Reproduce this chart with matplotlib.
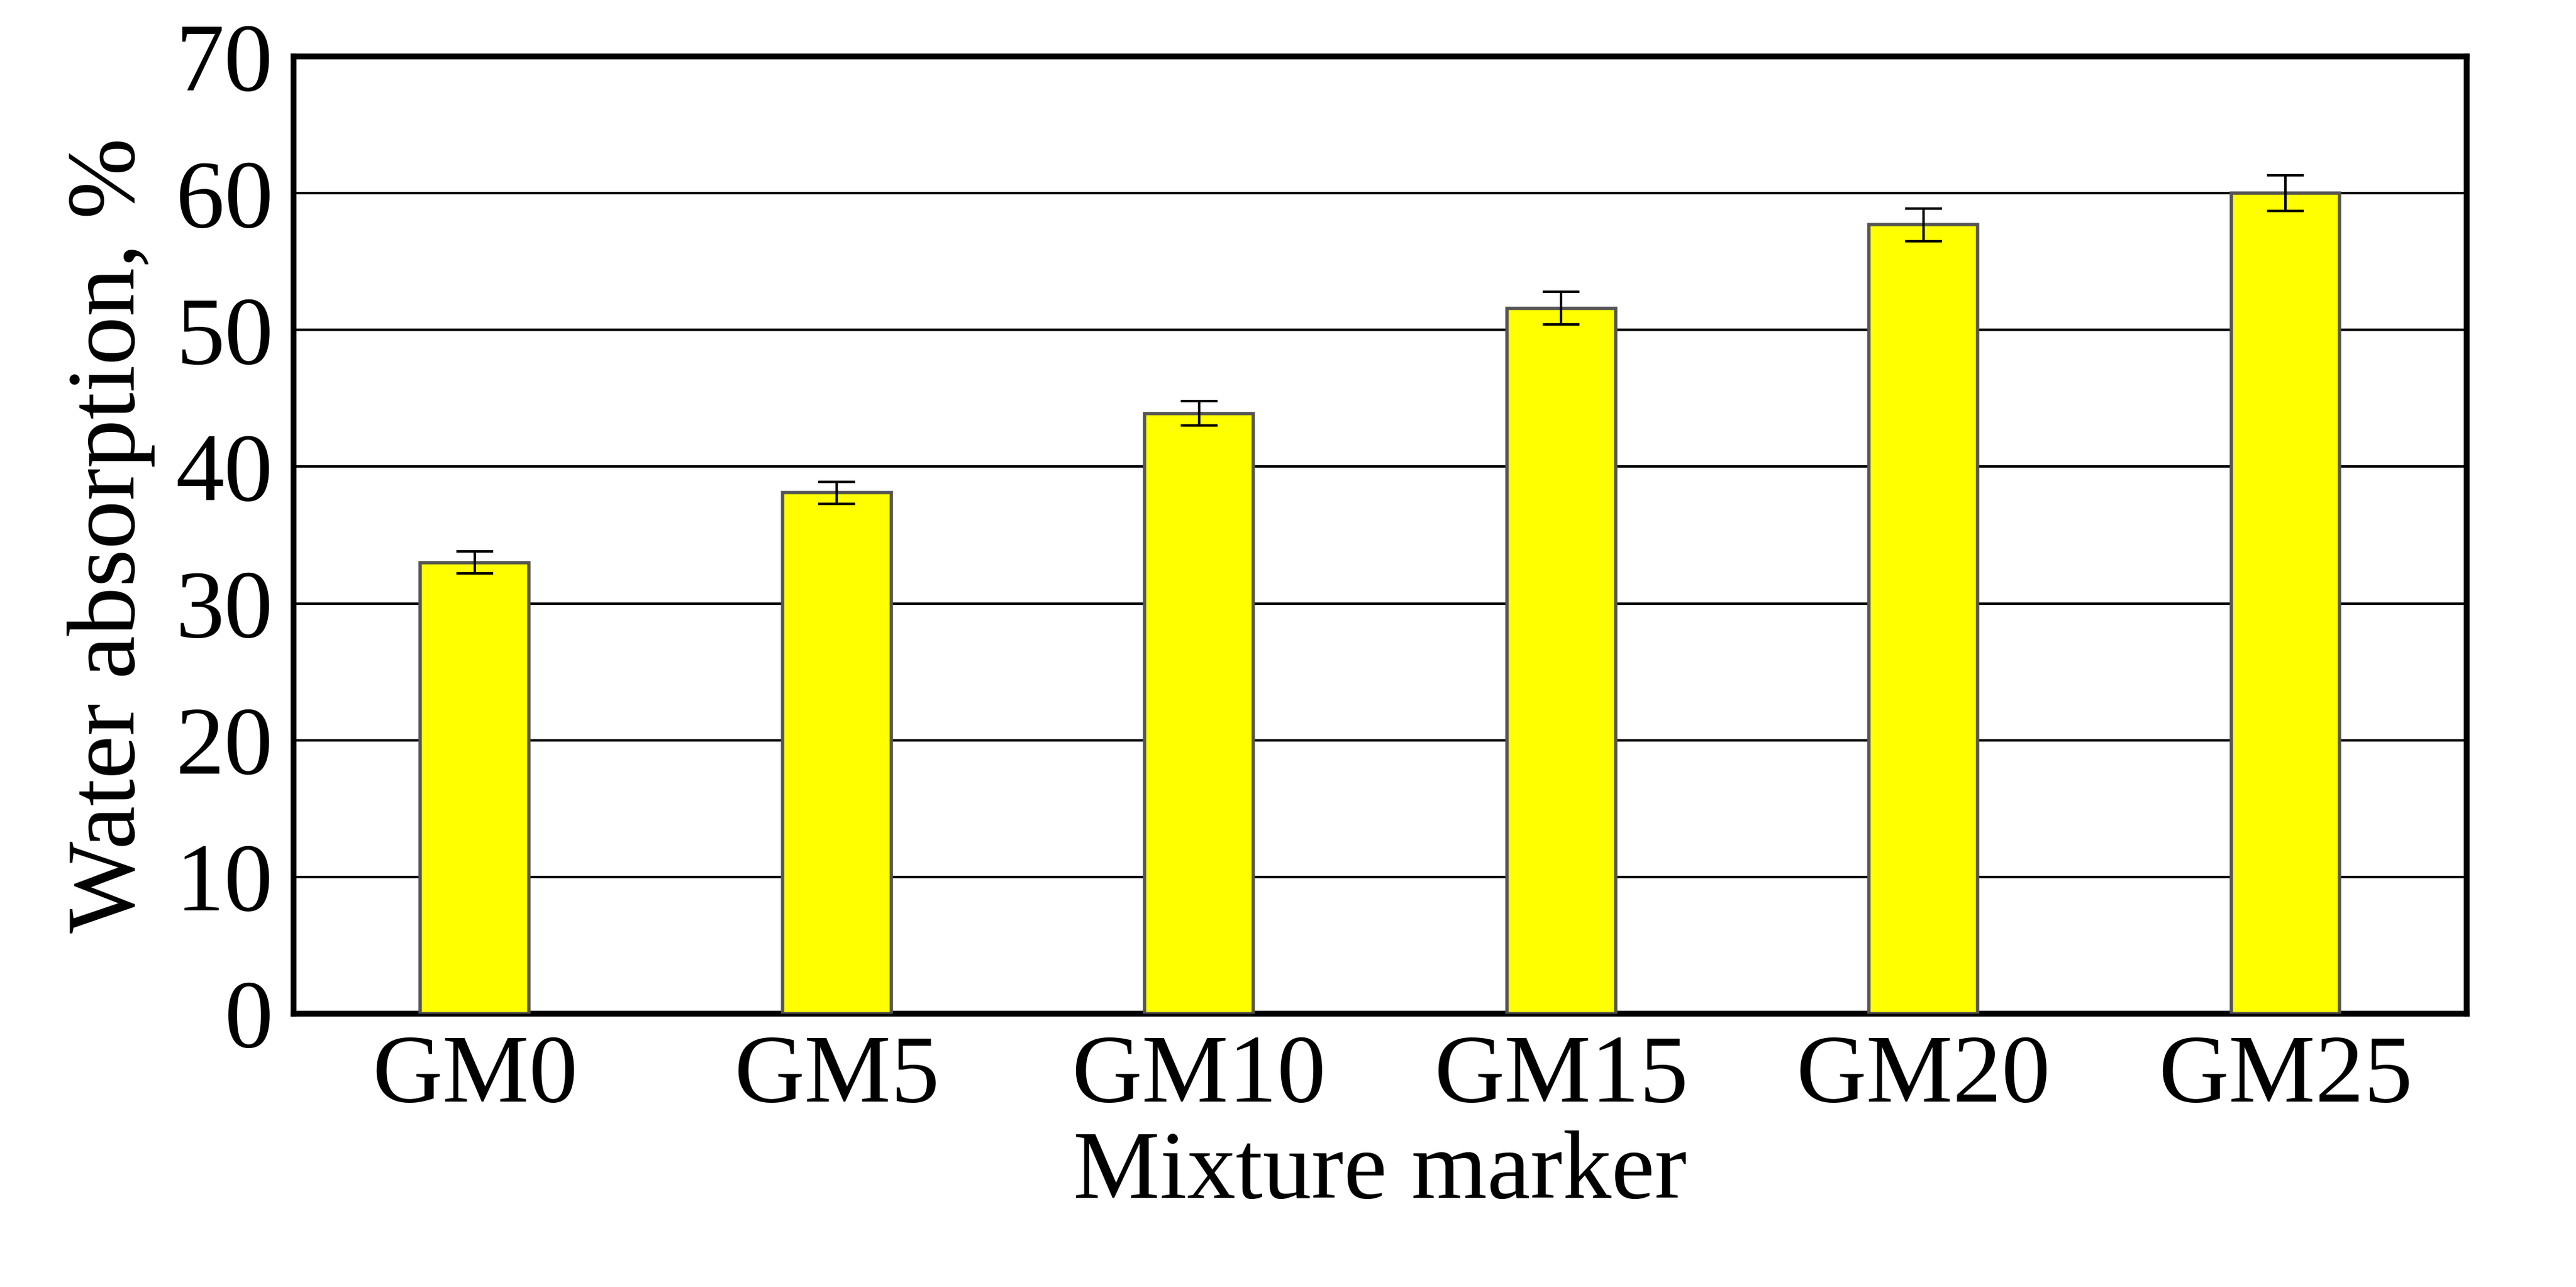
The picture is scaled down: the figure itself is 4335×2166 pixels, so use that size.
import matplotlib
matplotlib.use("Agg")
import matplotlib.pyplot as plt
import numpy as np

categories = ["GM0", "GM5", "GM10", "GM15", "GM20", "GM25"]
values = [33.0, 38.1, 43.9, 51.6, 57.7, 60.0]
errors = [0.8, 0.8, 0.9, 1.2, 1.2, 1.3]

plt.rcParams['font.family'] = ['Liberation Serif', 'DejaVu Serif']
fig = plt.figure(figsize=(43.35, 21.66), dpi=100)
ax = fig.add_axes([0.114, 0.2125, 0.8435, 0.7435])
x = np.arange(len(categories))
ax.bar(x, values, width=0.3, color='#FFFF00', edgecolor='#555555', linewidth=4, zorder=3)
ax.errorbar(x, values, yerr=errors, fmt='none', ecolor='black', elinewidth=3,
            capsize=22, capthick=3, zorder=4)
ax.set_ylim(0, 70)
ax.set_xlim(-0.5, 5.5)
ax.set_yticks(range(0, 71, 10))
ax.yaxis.grid(True, color='black', linewidth=3, zorder=0)
ax.set_axisbelow(True)
ax.set_xticks(x)
ax.set_xticklabels(categories)
ax.tick_params(axis='both', labelsize=118, length=0, pad=25)
for s in ax.spines.values():
    s.set_linewidth(7)
ax.set_ylabel("Water absorption, %", fontsize=118, labelpad=25)
ax.set_xlabel("Mixture marker", fontsize=118, labelpad=10)
fig.savefig("out.png", dpi=100)
